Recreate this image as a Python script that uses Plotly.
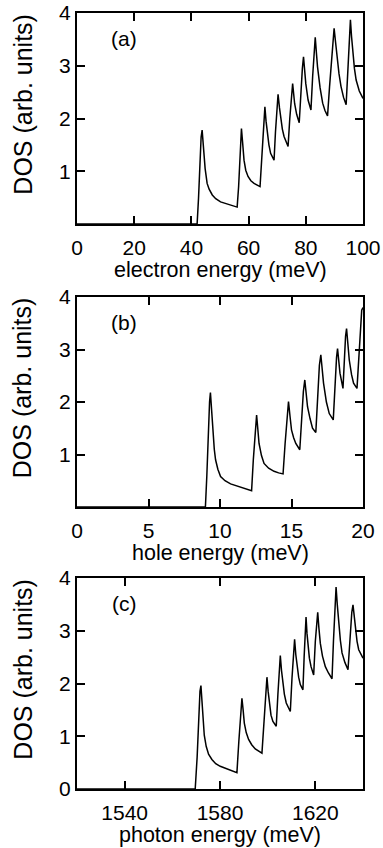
import plotly.graph_objects as go

# ---- data ----
elec_energy = [0, 42.0, 42.5, 43.0, 43.4, 43.75, 44.0, 44.3, 44.8, 45.5, 46.2, 47.3, 48.5, 50.2, 52.5, 54.8, 56.0,
               56.5, 57.0, 57.5, 57.9, 58.4, 59.0, 59.8, 60.8, 61.9, 64.0,
               64.6, 65.2, 65.7, 66.1, 66.5, 67.1, 67.7, 68.3, 68.9,
               69.4, 69.9, 70.3, 70.8, 71.3, 71.8, 72.4, 73.1, 73.8,
               74.4, 75.0, 75.4, 76.1, 76.8, 77.7,
               78.2, 78.8, 79.2, 79.6, 80.0, 80.8, 81.8,
               82.4, 82.9, 83.3, 83.7, 84.1, 85.0, 85.9, 86.7, 87.6,
               88.3, 89.4, 89.9, 90.4, 90.9, 91.6, 92.3, 93.2, 94.1,
               94.6, 95.2, 95.6, 96.0, 96.4, 97.0, 97.6, 98.7, 100]
elec_dos = [0, 0, 0.5, 1.2, 1.65, 1.78, 1.62, 1.34, 1.05, 0.77, 0.66, 0.55, 0.48, 0.42, 0.38, 0.34, 0.32,
            0.7, 1.35, 1.81, 1.55, 1.21, 1.02, 0.90, 0.82, 0.77, 0.71,
            1.2, 1.85, 2.22, 1.95, 1.72, 1.50, 1.34, 1.27, 1.21,
            1.75, 2.25, 2.46, 2.2, 1.97, 1.80, 1.66, 1.55, 1.47,
            2.0, 2.5, 2.66, 2.28, 2.08, 1.92,
            2.45, 2.95, 3.17, 2.9, 2.66, 2.35, 2.16,
            2.8, 3.35, 3.54, 3.25, 2.98, 2.58, 2.29, 2.15, 2.05,
            2.6, 3.45, 3.71, 3.45, 3.17, 2.85, 2.61, 2.40, 2.26,
            2.9, 3.6, 3.87, 3.55, 3.23, 2.95, 2.73, 2.52, 2.38]

hole_energy = [0, 8.98, 9.08, 9.18, 9.27, 9.33, 9.40, 9.5, 9.6, 9.69, 9.85, 10.04, 10.35, 10.74, 11.2, 11.67, 12.21,
               12.33, 12.45, 12.56, 12.64, 12.73, 12.9, 13.08, 13.4, 13.78, 14.1, 14.41,
               14.55, 14.68, 14.79, 14.9, 15.0, 15.15, 15.3, 15.58,
               15.7, 15.83, 15.93, 16.02, 16.12, 16.3, 16.47, 16.70,
               16.82, 16.95, 17.05, 17.14, 17.24, 17.44, 17.64, 17.92,
               18.05, 18.15, 18.22, 18.3, 18.39, 18.60,
               18.7, 18.78, 18.85, 18.95, 19.04, 19.2, 19.34, 19.58,
               19.7, 19.82, 19.91, 20]
hole_dos = [0, 0, 0.6, 1.4, 2.0, 2.18, 1.9, 1.40, 1.1, 0.90, 0.72, 0.58, 0.50, 0.44, 0.40, 0.36, 0.31,
            0.9, 1.45, 1.75, 1.5, 1.21, 0.98, 0.83, 0.74, 0.68, 0.65, 0.63,
            1.2, 1.75, 2.01, 1.72, 1.47, 1.32, 1.21, 1.09,
            1.7, 2.2, 2.42, 2.15, 1.91, 1.68, 1.50, 1.42,
            2.1, 2.7, 2.90, 2.6, 2.36, 2.0, 1.78, 1.66,
            2.4, 2.85, 3.02, 2.75, 2.55, 2.26,
            2.85, 3.25, 3.40, 3.1, 2.80, 2.52, 2.36, 2.26,
            2.9, 3.5, 3.75, 3.8]

photon_energy = [1520, 1569.6, 1570.4, 1571.1, 1571.6, 1572.0, 1572.4, 1572.8, 1573.4, 1574.2, 1575.2, 1576.6,
                 1578.2, 1580.1, 1582.2, 1584.3, 1587.1,
                 1587.9, 1588.6, 1589.2, 1589.7, 1590.2, 1591.0, 1592.0, 1593.3, 1594.8, 1597.6,
                 1598.4, 1599.1, 1599.7, 1600.2, 1600.8, 1601.4, 1602.2, 1603.6,
                 1604.3, 1604.9, 1605.3, 1605.8, 1606.4, 1607.0, 1607.8, 1609.5,
                 1610.2, 1610.8, 1611.3, 1611.8, 1612.3, 1613.0, 1613.7, 1614.8,
                 1615.3, 1615.8, 1616.1, 1616.5, 1616.9, 1617.5, 1618.2, 1619.3,
                 1620.0, 1620.6, 1621.0, 1621.5, 1622.1, 1623.0, 1624.2, 1625.5, 1627.0,
                 1627.6, 1628.3, 1628.7, 1629.2, 1629.8, 1630.5, 1631.2, 1632.4, 1633.7,
                 1634.5, 1635.3, 1635.8, 1636.3, 1636.8, 1637.5, 1638.2, 1640]
photon_dos = [0, 0, 0.6, 1.4, 1.85, 1.96, 1.7, 1.32, 1.02, 0.81, 0.66, 0.56,
              0.48, 0.43, 0.39, 0.35, 0.31,
              0.9, 1.45, 1.72, 1.5, 1.25, 1.07, 0.94, 0.84, 0.76, 0.68,
              1.3, 1.85, 2.12, 1.85, 1.56, 1.40, 1.28, 1.19,
              1.8, 2.3, 2.53, 2.25, 2.00, 1.80, 1.63, 1.47,
              2.1, 2.6, 2.84, 2.55, 2.32, 2.12, 1.98, 1.88,
              2.5, 3.05, 3.26, 2.95, 2.70, 2.48, 2.32, 2.16,
              2.8, 3.2, 3.35, 3.05, 2.76, 2.52, 2.32, 2.2, 2.09,
              2.8, 3.55, 3.83, 3.5, 3.15, 2.82, 2.58, 2.40, 2.26,
              2.9, 3.35, 3.49, 3.25, 3.02, 2.8, 2.64, 2.48]

panel_labels = ["(a)", "(b)", "(c)"]
x_titles = ["electron energy (meV)", "hole energy (meV)", "photon energy (meV)"]
y_title = "DOS (arb. units)"
x_ranges = [[0, 100], [0, 20], [1520, 1640]]
x_tickvals = [[0, 20, 40, 60, 80, 100], [0, 5, 10, 15, 20], [1540, 1580, 1620]]
y_tickvals = [[1, 2, 3, 4], [1, 2, 3, 4], [0, 1, 2, 3, 4]]

series = [(elec_energy, elec_dos), (hole_energy, hole_dos), (photon_energy, photon_dos)]

FONT = "Liberation Sans, Arial, Helvetica, sans-serif"
FIG_W, FIG_H = 383, 848
M_L, M_R, M_T, M_B = 77, 20, 13, 59
domains = [[0.7281, 1.0], [0.3634, 0.634], [0.0, 0.2719]]

fig = go.Figure()
layout = dict(
    width=FIG_W, height=FIG_H,
    margin=dict(l=M_L, r=M_R, t=M_T, b=M_B),
    paper_bgcolor="white", plot_bgcolor="white",
    showlegend=False,
    font=dict(family=FONT, color="black", size=20),
)

annotations = []
for i, (xs, ys) in enumerate(series):
    n = "" if i == 0 else str(i + 1)
    fig.add_trace(go.Scatter(x=xs, y=ys, mode="lines",
                             line=dict(color="black", width=1.5),
                             xaxis="x" + n, yaxis="y" + n, hoverinfo="skip"))
    layout["xaxis" + n] = dict(
        domain=[0, 1], anchor="y" + n, range=x_ranges[i], automargin=False,
        tickvals=x_tickvals[i], ticks="inside", ticklen=8, tickwidth=2, tickcolor="black",
        showline=True, linewidth=2, linecolor="black", mirror="ticks",
        showgrid=False, zeroline=False, ticklabelstandoff=4, ticklabeloverflow="allow",
        tickfont=dict(size=21, family=FONT),
    )
    layout["yaxis" + n] = dict(
        domain=domains[i], anchor="x" + n, range=[0, 4], automargin=False,
        tickvals=y_tickvals[i], ticks="inside", ticklen=8, tickwidth=2, tickcolor="black",
        showline=True, linewidth=2, linecolor="black", mirror="ticks",
        showgrid=False, zeroline=False, ticklabeloverflow="allow",
        tickfont=dict(size=21, family=FONT),
    )
    annotations.append(dict(text=panel_labels[i], xref=("x" + n + " domain"), yref=("y" + n + " domain"),
                            x=0.165, y=0.878, showarrow=False, xanchor="center", yanchor="middle",
                            font=dict(size=21, family=FONT, color="black")))
    annotations.append(dict(text=y_title, textangle=-90, xref=("x" + n + " domain"), yref=("y" + n + " domain"),
                            x=-0.192, y=0.566, showarrow=False, xanchor="center", yanchor="middle",
                            font=dict(size=25, family=FONT, color="black")))
    annotations.append(dict(text=x_titles[i], xref=("x" + n + " domain"), yref=("y" + n + " domain"),
                            x=0.5, y=-0.218, showarrow=False, xanchor="center", yanchor="middle",
                            borderpad=0, font=dict(size=21.5, family=FONT, color="black")))

layout["annotations"] = annotations
fig.update_layout(**layout)
# remove the default page margin so the figure fills the window exactly
fig.write_html("out.html", config={"displayModeBar": False},
               post_script="document.body.style.margin='0';")
